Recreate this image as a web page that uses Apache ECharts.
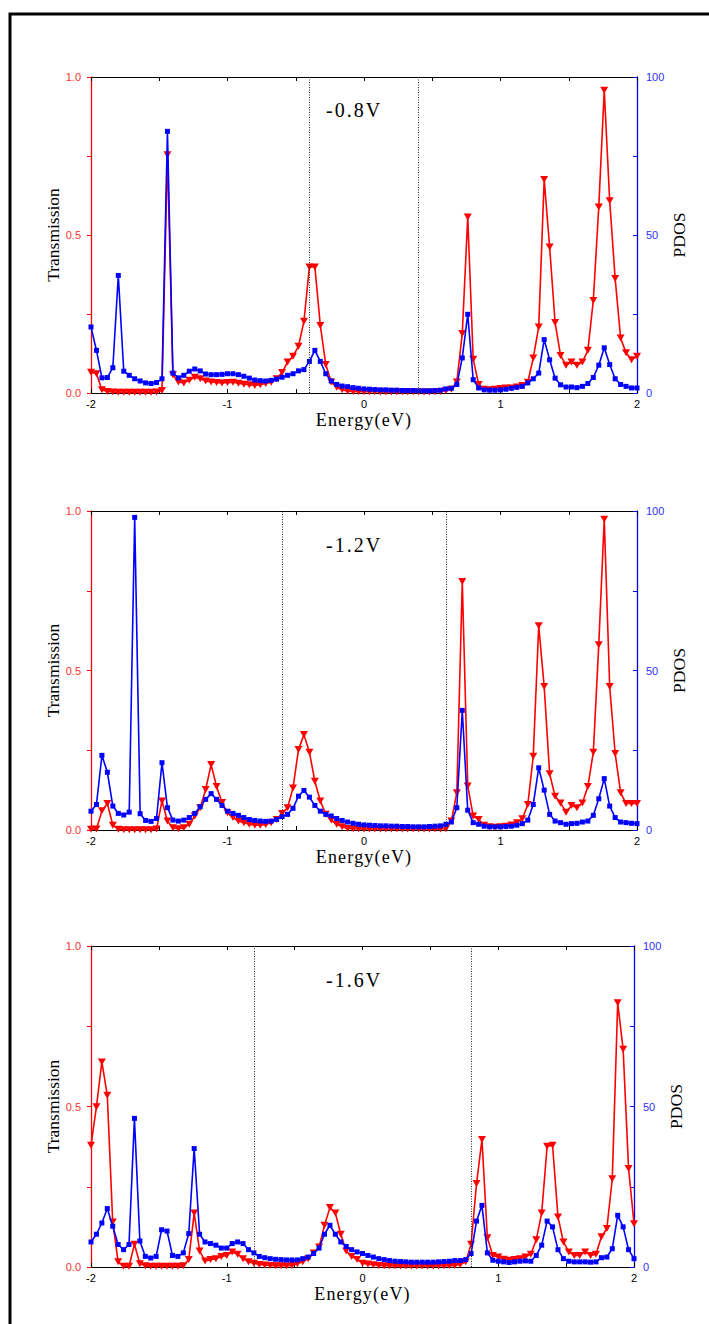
<!DOCTYPE html>
<html>
<head>
<meta charset="utf-8">
<script src="https://cdn.jsdelivr.net/npm/echarts@6/dist/echarts.min.js"></script>
<style>
html,body{margin:0;padding:0;background:#fff;}
#chart{width:709px;height:1324px;}
</style>
</head>
<body>
<div id="chart"></div>
<script>
// Energy grid (eV)
const energy = [-2,-1.96,-1.92,-1.88,-1.84,-1.8,-1.76,-1.72,-1.68,-1.64,-1.6,-1.56,-1.52,-1.48,-1.44,-1.4,-1.36,-1.32,-1.28,-1.24,-1.2,-1.16,-1.12,-1.08,-1.04,-1,-0.96,-0.92,-0.88,-0.84,-0.8,-0.76,-0.72,-0.68,-0.64,-0.6,-0.56,-0.52,-0.48,-0.44,-0.4,-0.36,-0.32,-0.28,-0.24,-0.2,-0.16,-0.12,-0.08,-0.04,0,0.04,0.08,0.12,0.16,0.2,0.24,0.28,0.32,0.36,0.4,0.44,0.48,0.52,0.56,0.6,0.64,0.68,0.72,0.76,0.8,0.84,0.88,0.92,0.96,1,1.04,1.08,1.12,1.16,1.2,1.24,1.28,1.32,1.36,1.4,1.44,1.48,1.52,1.56,1.6,1.64,1.68,1.72,1.76,1.8,1.84,1.88,1.92,1.96,2];

const biasLabels = ['-0.8V', '-1.2V', '-1.6V'];
const biasWindow = [0.4, 0.6, 0.8];

// Panel 1 (-0.8V)
const trans08 = [0.066,0.061,0.010,0.005,0.003,0.002,0.002,0.002,0.002,0.002,0.002,0.002,0.003,0.008,0.754,0.058,0.035,0.032,0.040,0.050,0.045,0.038,0.035,0.033,0.032,0.033,0.034,0.031,0.028,0.026,0.024,0.026,0.030,0.034,0.045,0.065,0.098,0.116,0.148,0.227,0.399,0.399,0.214,0.090,0.035,0.018,0.010,0.006,0.005,0.004,0.004,0.004,0.004,0.003,0.003,0.003,0.003,0.003,0.003,0.003,0.003,0.003,0.003,0.004,0.005,0.008,0.012,0.035,0.188,0.557,0.107,0.027,0.012,0.010,0.012,0.014,0.016,0.016,0.019,0.024,0.034,0.111,0.209,0.676,0.462,0.223,0.119,0.088,0.098,0.088,0.098,0.135,0.293,0.589,0.958,0.608,0.362,0.174,0.127,0.105,0.116];
const pdos08 = [20.9,13.5,4.8,4.9,8.0,37.2,6.9,5.6,4.5,3.8,3.2,3.0,3.3,4.5,82.8,6.3,4.8,5.6,6.9,7.6,7.0,6.0,5.8,5.8,5.9,6.1,6.1,5.8,5.3,4.7,4.1,3.9,3.8,4.0,4.4,5.0,5.6,6.1,7.0,7.4,10.0,13.5,10.0,6.1,3.8,2.7,2.2,2.0,1.7,1.5,1.3,1.2,1.1,1.0,1.0,0.9,0.9,0.8,0.8,0.8,0.7,0.7,0.7,0.8,0.9,1.3,1.5,2.7,11.1,24.9,4.2,1.6,1.0,0.9,0.9,1.0,1.2,1.5,1.8,2.1,3.2,4.5,6.3,16.9,10.5,4.7,2.6,1.9,1.9,1.7,2.1,3.0,4.9,8.8,14.3,9.0,4.5,2.7,2.1,1.6,1.6];

// Panel 2 (-1.2V)
const trans12 = [0.002,0.003,0.060,0.083,0.015,0.002,0.001,0.001,0.001,0.001,0.001,0.001,0.003,0.091,0.028,0.007,0.004,0.007,0.018,0.044,0.070,0.127,0.205,0.136,0.086,0.054,0.039,0.028,0.023,0.018,0.015,0.015,0.017,0.023,0.033,0.052,0.070,0.132,0.252,0.299,0.244,0.153,0.091,0.049,0.031,0.018,0.010,0.005,0.004,0.003,0.003,0.003,0.003,0.003,0.003,0.003,0.003,0.003,0.003,0.003,0.003,0.003,0.003,0.003,0.003,0.004,0.028,0.117,0.779,0.138,0.044,0.033,0.015,0.010,0.009,0.010,0.012,0.016,0.023,0.035,0.080,0.231,0.640,0.450,0.176,0.106,0.085,0.056,0.077,0.070,0.085,0.136,0.244,0.581,0.974,0.450,0.240,0.117,0.083,0.083,0.083];
const pdos12 = [5.9,8.0,23.4,18.1,7.5,5.2,4.7,5.6,98.0,5.1,3.0,2.7,3.6,21.1,7.0,3.1,2.8,3.1,3.9,5.2,7.3,9.6,11.4,9.6,7.7,5.9,5.2,4.6,3.9,3.3,3.0,2.8,2.7,2.8,3.3,4.2,4.9,6.8,10.6,12.4,10.3,7.7,5.9,4.9,4.4,3.6,3.0,2.5,2.1,1.8,1.6,1.5,1.4,1.3,1.3,1.2,1.2,1.1,1.1,1.0,1.0,1.0,1.1,1.2,1.3,1.8,2.5,7.0,37.5,6.2,2.3,1.8,1.2,1.0,1.0,1.0,1.1,1.2,1.5,2.0,3.1,8.0,19.5,12.5,4.9,2.8,2.3,1.8,2.0,2.1,2.5,2.8,4.6,9.8,16.1,7.5,3.9,2.5,2.3,2.1,2.0];

// Panel 3 (-1.6V)
const trans16 = [0.379,0.499,0.639,0.535,0.140,0.016,0.002,0.002,0.071,0.010,0.004,0.002,0.002,0.002,0.002,0.002,0.002,0.004,0.023,0.168,0.050,0.019,0.023,0.026,0.033,0.036,0.047,0.040,0.026,0.016,0.012,0.008,0.006,0.005,0.004,0.004,0.004,0.005,0.010,0.016,0.026,0.044,0.062,0.130,0.185,0.168,0.102,0.050,0.033,0.023,0.012,0.009,0.007,0.005,0.004,0.004,0.003,0.003,0.003,0.003,0.003,0.003,0.003,0.003,0.003,0.004,0.004,0.005,0.008,0.016,0.071,0.260,0.397,0.091,0.036,0.031,0.024,0.021,0.023,0.026,0.031,0.040,0.085,0.168,0.376,0.379,0.156,0.078,0.047,0.036,0.036,0.047,0.036,0.040,0.094,0.120,0.275,0.823,0.678,0.307,0.135];
const pdos16 = [7.8,10.2,13.7,18.2,12.7,7.0,5.4,7.0,46.3,8.1,3.3,2.8,3.3,11.6,11.2,3.6,3.3,4.4,10.4,36.9,10.2,7.8,7.3,6.8,5.9,5.9,7.3,7.8,7.3,5.4,4.4,3.3,2.9,2.6,2.4,2.3,2.2,2.2,2.2,2.6,3.1,4.2,5.9,10.2,13.0,10.2,7.8,6.4,5.4,4.7,4.2,3.6,3.1,2.6,2.3,2.0,1.8,1.7,1.6,1.5,1.5,1.5,1.5,1.5,1.6,1.7,1.8,2.0,2.0,2.3,4.2,14.3,19.2,4.4,2.1,1.8,1.6,1.4,1.6,1.8,1.9,1.8,3.6,6.8,14.3,12.5,5.4,2.6,1.8,1.6,1.6,1.6,1.5,1.6,2.9,3.1,5.7,16.1,12.5,5.4,2.6];

const xTicks = [-2, -1, 0, 1, 2];
const leftTicks = [0, 0.5, 1];
const rightTicks = [0, 50, 100];

const transSets = [trans08, trans12, trans16];
const pdosSets = [pdos08, pdos12, pdos16];

const grids = [
  {left: 91, top: 77, width: 546, height: 316},
  {left: 91, top: 511, width: 546, height: 319},
  {left: 91, top: 946, width: 543, height: 321}
];
const labelTops = [100, 535, 970];

const SANS = '"Liberation Sans", Arial, sans-serif';
const SERIF = '"Liberation Serif", "Times New Roman", serif';
const RED = '#ff0000', BLUE = '#0000ff';

const xAxes = [], yAxes = [], series = [], graphics = [];
grids.forEach((g, k) => {
  xAxes.push({
    type: 'value', gridIndex: k, position: 'bottom', min: -2, max: 2, interval: 0.5,
    axisLine: {onZero: false, lineStyle: {color: '#000', width: 1}},
    axisTick: {inside: true, length: 4, lineStyle: {color: '#000'}},
    axisLabel: {color: '#000', fontFamily: SANS, fontSize: 11, margin: 5,
      formatter: v => xTicks.indexOf(v) >= 0 ? String(v) : ''},
    splitLine: {show: false},
    name: 'Energy(eV)', nameLocation: 'middle', nameGap: 18,
    nameTextStyle: {fontFamily: SERIF, fontSize: 18, color: '#000'}
  });
  xAxes.push({
    type: 'value', gridIndex: k, position: 'top', min: -2, max: 2, interval: 0.5,
    axisLine: {onZero: false, lineStyle: {color: '#000', width: 1}},
    axisTick: {inside: true, length: 4, lineStyle: {color: '#000'}},
    axisLabel: {show: false}, splitLine: {show: false}
  });
  yAxes.push({
    type: 'value', gridIndex: k, position: 'left', min: 0, max: 1, interval: 0.25,
    axisLine: {show: true, onZero: false, lineStyle: {color: RED, width: 1.3}},
    axisTick: {show: true, length: 4, lineStyle: {color: RED}},
    axisLabel: {color: '#ff3030', fontFamily: SANS, fontSize: 11, margin: 10,
      formatter: v => leftTicks.indexOf(v) >= 0 ? v.toFixed(1) : ''},
    splitLine: {show: false},
    name: 'Transmission', nameLocation: 'middle', nameGap: 29, nameRotate: 90,
    nameMoveOverlap: false,
    nameTextStyle: {fontFamily: SERIF, fontSize: 17.5, color: '#000'}
  });
  yAxes.push({
    type: 'value', gridIndex: k, position: 'right', min: 0, max: 100, interval: 25,
    axisLine: {show: true, onZero: false, lineStyle: {color: BLUE, width: 1.3}},
    axisTick: {show: true, inside: true, length: 4, lineStyle: {color: BLUE}},
    axisLabel: {color: '#3030ff', fontFamily: SANS, fontSize: 11, margin: 9,
      formatter: v => rightTicks.indexOf(v) >= 0 ? String(v) : ''},
    splitLine: {show: false},
    name: 'PDOS', nameLocation: 'middle', nameGap: 33, nameRotate: 90,
    nameMoveOverlap: false,
    nameTextStyle: {fontFamily: SERIF, fontSize: 17.5, color: '#000'}
  });
  const w = biasWindow[k];
  series.push({
    type: 'line', xAxisIndex: 2 * k, yAxisIndex: 2 * k,
    data: energy.map((e, i) => [e, transSets[k][i]]),
    symbol: 'triangle', symbolRotate: 180, symbolSize: [8, 7], showAllSymbol: true,
    lineStyle: {color: RED, width: 1.6}, itemStyle: {color: RED},
    clip: true, z: 2,
    markLine: {
      silent: true, symbol: 'none', animation: false,
      label: {show: false},
      lineStyle: {color: '#222', type: [1, 1.5], width: 1},
      data: [{xAxis: -w}, {xAxis: w}]
    }
  });
  series.push({
    type: 'line', xAxisIndex: 2 * k, yAxisIndex: 2 * k + 1,
    data: energy.map((e, i) => [e, pdosSets[k][i]]),
    symbol: 'rect', symbolSize: 5, showAllSymbol: true,
    lineStyle: {color: BLUE, width: 1.6}, itemStyle: {color: BLUE},
    clip: true, z: 3
  });
  graphics.push({
    type: 'text', left: 326, top: labelTops[k], z: 10,
    style: {text: biasLabels[k], font: '20px ' + SERIF, fill: '#000'}
  });
});

graphics.push({
  type: 'rect', z: 20, silent: true,
  shape: {x: 10, y: 14, width: 900, height: 1500},
  style: {fill: 'none', stroke: '#000', lineWidth: 3}
});

const chart = echarts.init(document.getElementById('chart'), null, {renderer: 'svg'});
chart.setOption({
  animation: false,
  backgroundColor: '#fff',
  grid: grids.map(g => Object.assign({containLabel: false}, g)),
  xAxis: xAxes,
  yAxis: yAxes,
  series: series,
  graphic: graphics
});

function spaceText() {
  const texts = document.querySelectorAll('#chart text');
  texts.forEach(t => {
    const s = t.textContent;
    if (s === 'Energy(eV)') t.style.letterSpacing = '1.2px';
    if (biasLabels.indexOf(s) >= 0) t.style.letterSpacing = '2px';
  });
}
spaceText();
chart.on('finished', spaceText);
</script>
</body>
</html>
